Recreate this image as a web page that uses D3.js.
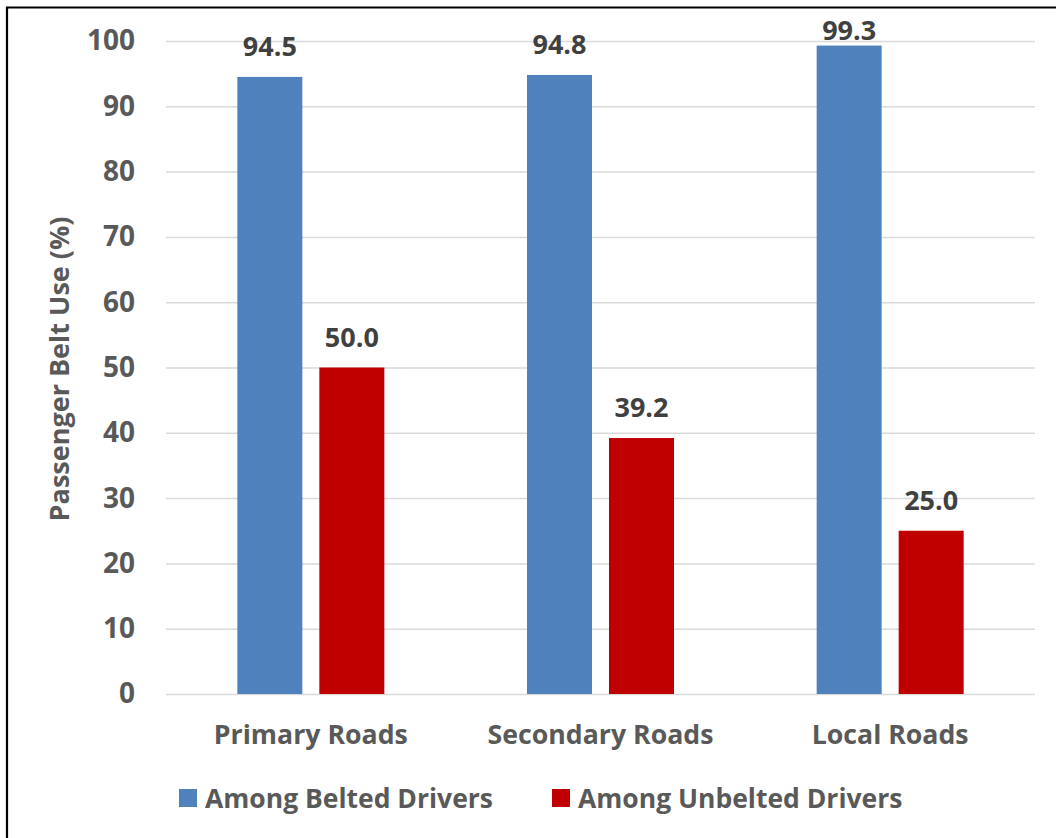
<!DOCTYPE html>
<html lang="en">
	<head>
		<meta charset="utf-8">
		<title>Passenger Belt Use</title>
		<script type="text/javascript" src="https://cdn.jsdelivr.net/npm/d3@7"></script>
		<style type="text/css">
			body {
				margin: 0;
				background: white;
			}
			text {
				font-family: "Open Sans", sans-serif;
				font-weight: bold;
			}
		</style>
	</head>
	<body>
		<script type="text/javascript">

			//Data
			var categories = ["Primary Roads", "Secondary Roads", "Local Roads"];
			var seriesNames = ["Among Belted Drivers", "Among Unbelted Drivers"];
			var belted = [94.5, 94.8, 99.3];
			var unbelted = [50.0, 39.2, 25.0];
			var yTicks = [0, 10, 20, 30, 40, 50, 60, 70, 80, 90, 100];
			var colors = ["#4f81bd", "#c00000"];

			//Width and height
			var w = 1056;
			var h = 838;

			var dataset = categories.map(function(c, i) {
				return { cat: c, values: [belted[i], unbelted[i]] };
			});

			//Scales
			var xScale = d3.scaleBand()
						   .domain(categories)
						   .range([166, 1035]);

			var groupW = 147;
			var x1 = d3.scaleBand()
					   .domain([0, 1])
					   .range([(xScale.bandwidth() - groupW) / 2, (xScale.bandwidth() + groupW) / 2])
					   .paddingInner(17 / 82);

			var yScale = d3.scaleLinear()
						   .domain([0, 100])
						   .range([694, 41]);

			//Create SVG element
			var svg = d3.select("body")
						.append("svg")
						.attr("width", w)
						.attr("height", h);

			//Outer border (only left and top show in the picture)
			svg.append("path")
			   .attr("d", "M7,840 L7,7.5 L1060,7.5")
			   .attr("fill", "none")
			   .attr("stroke", "black")
			   .attr("stroke-width", 2.2);

			//Gridlines
			var yGrid = d3.axisLeft(yScale)
						  .tickValues(yTicks)
						  .tickSize(-(1035 - 166))
						  .tickFormat("");

			svg.append("g")
			   .attr("class", "grid")
			   .attr("transform", "translate(166,0)")
			   .call(yGrid)
			   .call(function(g) { g.select(".domain").remove(); })
			   .selectAll("line")
			   .attr("stroke", "#d9d9d9")
			   .attr("stroke-width", 1.5);

			//Y axis labels
			var yAxis = d3.axisLeft(yScale)
						  .tickValues(yTicks)
						  .tickSize(0)
						  .tickPadding(0);

			svg.append("g")
			   .attr("transform", "translate(135,0)")
			   .call(yAxis)
			   .call(function(g) { g.select(".domain").remove(); })
			   .selectAll("text")
			   .attr("font-family", "Open Sans, sans-serif")
			   .attr("font-weight", "bold")
			   .attr("font-size", "28px")
			   .attr("fill", "#595959");

			//X axis labels
			var xAxis = d3.axisBottom(xScale)
						  .tickSize(0)
						  .tickPadding(0);

			svg.append("g")
			   .attr("transform", "translate(0,725)")
			   .call(xAxis)
			   .call(function(g) { g.select(".domain").remove(); })
			   .selectAll("text")
			   .attr("font-family", "Open Sans, sans-serif")
			   .attr("font-weight", "bold")
			   .attr("font-size", "26.7px")
			   .attr("fill", "#595959");

			//Bars
			var groups = svg.selectAll("g.cat")
							.data(dataset)
							.enter()
							.append("g")
							.attr("class", "cat")
							.attr("transform", function(d) {
								return "translate(" + xScale(d.cat) + ",0)";
							});

			groups.selectAll("rect")
				  .data(function(d) { return d.values; })
				  .enter()
				  .append("rect")
				  .attr("x", function(d, i) { return x1(i); })
				  .attr("y", function(d) { return yScale(d); })
				  .attr("width", x1.bandwidth())
				  .attr("height", function(d) { return yScale(0) - yScale(d); })
				  .attr("fill", function(d, i) { return colors[i]; });

			//Value labels
			groups.selectAll("text.val")
				  .data(function(d) { return d.values; })
				  .enter()
				  .append("text")
				  .attr("class", "val")
				  .attr("x", function(d, i) { return x1(i) + x1.bandwidth() / 2; })
				  .attr("y", function(d) { return Math.max(yScale(d) - 30, 31); })
				  .attr("dy", "0.35em")
				  .attr("text-anchor", "middle")
				  .attr("font-size", "27px")
				  .attr("fill", "#404040")
				  .text(function(d) { return d.toFixed(1); });

			//Y axis title
			svg.append("text")
			   .attr("transform", "translate(60,369) rotate(-90)")
			   .attr("text-anchor", "middle")
			   .attr("dy", "0.35em")
			   .attr("font-size", "27px")
			   .attr("fill", "#595959")
			   .text("Passenger Belt Use (%)");

			//Legend
			var legendX = [179, 552];
			var legend = svg.selectAll("g.legend")
							.data(seriesNames)
							.enter()
							.append("g")
							.attr("class", "legend")
							.attr("transform", function(d, i) {
								return "translate(" + legendX[i] + ",789)";
							});

			legend.append("rect")
				  .attr("width", 18)
				  .attr("height", 18)
				  .attr("fill", function(d, i) { return colors[i]; });

			legend.append("text")
				  .attr("x", 26)
				  .attr("y", 10)
				  .attr("dy", "0.35em")
				  .attr("font-size", "26.5px")
				  .attr("fill", "#595959")
				  .text(function(d) { return d; });

		</script>
	</body>
</html>
